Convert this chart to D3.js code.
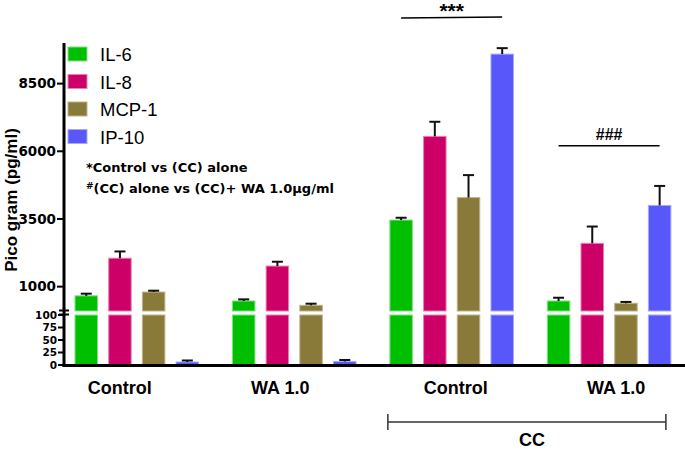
<!DOCTYPE html>
<html><head><meta charset="utf-8">
<script src="https://cdn.jsdelivr.net/npm/d3@7"></script>
<style>
body{margin:0;background:#fff;}
svg{display:block;}
</style></head>
<body>
<svg id="chart" width="685" height="449"></svg>
<script>
// ---- data ----
const groups = ["Control", "WA 1.0", "Control", "WA 1.0"];
const seriesNames = ["IL-6", "IL-8", "MCP-1", "IP-10"];
const IL6 = [660, 470, 3460, 470];
const IL6err = [80, 60, 85, 120];
const IL8 = [2050, 1760, 6550, 2600];
const IL8err = [250, 160, 540, 620];
const MCP1 = [800, 310, 4290, 385];
const MCP1err = [50, 60, 830, 50];
const IP10 = [6, 7, 9590, 4000];
const IP10err = [3, 3, 220, 720];
const upperTicks = [1000, 3500, 6000, 8500];
const lowerTicks = [0, 25, 50, 75, 100];
const colors = ["#00bf00", "#cc0066", "#8a7a3a", "#5757fa"];
const strokes = ["#7ee07e", "#e880b3", "#bfb38a", "#a8a8ff"];

const values = [IL6, IL8, MCP1, IP10];
const errors = [IL6err, IL8err, MCP1err, IP10err];

const svg = d3.select("#chart");

// scales
const yUpper = d3.scaleLinear().domain([100, 10000]).range([311, 43]);
const yLower = d3.scaleLinear().domain([0, 100]).range([365, 315]);
const x0 = d3.scaleBand().domain(d3.range(groups.length)).range([75, 670.9]).paddingInner(0.215).paddingOuter(0);
const x1 = d3.scaleBand().domain(seriesNames).range([0, x0.bandwidth()]).paddingInner(0.332);

const axisX = 64;
const lowerTop = yLower(100), upperBottom = yUpper(100);

// bars
const data = [];
groups.forEach((g, gi) => {
  seriesNames.forEach((s, si) => {
    data.push({gi, si, s, v: values[si][gi], e: errors[si][gi]});
  });
});

const barG = svg.append("g");
data.forEach(d => {
  const x = x0(d.gi) + x1(d.s);
  const w = x1.bandwidth();
  if (d.v > 100) {
    barG.append("rect").attr("x", x).attr("y", lowerTop).attr("width", w).attr("height", yLower(0) - lowerTop)
      .attr("fill", colors[d.si]).attr("stroke", strokes[d.si]).attr("stroke-width", 1);
    barG.append("rect").attr("x", x).attr("y", yUpper(d.v)).attr("width", w).attr("height", upperBottom - yUpper(d.v))
      .attr("fill", colors[d.si]).attr("stroke", strokes[d.si]).attr("stroke-width", 1);
  } else {
    barG.append("rect").attr("x", x).attr("y", yLower(d.v)).attr("width", w).attr("height", yLower(0) - yLower(d.v))
      .attr("fill", colors[d.si]).attr("stroke", strokes[d.si]).attr("stroke-width", 1);
  }
  const yTop = d.v > 100 ? yUpper(d.v) : yLower(d.v);
  const yErr = d.v > 100 ? yUpper(d.v + d.e) : yLower(d.v + d.e);
  const cx = x + w / 2;
  barG.append("line").attr("x1", cx).attr("x2", cx).attr("y1", yTop).attr("y2", yErr)
    .attr("stroke", "#111").attr("stroke-width", 2);
  barG.append("line").attr("x1", cx - 5.5).attr("x2", cx + 5.5).attr("y1", yErr).attr("y2", yErr)
    .attr("stroke", "#111").attr("stroke-width", 2);
});

// y axis
const axG = svg.append("g");
axG.append("line").attr("x1", axisX).attr("x2", axisX).attr("y1", 43).attr("y2", 366.5)
  .attr("stroke", "#000").attr("stroke-width", 3);
const tickFont = "'DejaVu Sans', sans-serif";
upperTicks.forEach(t => {
  const y = yUpper(t);
  axG.append("line").attr("x1", 57).attr("x2", axisX).attr("y1", y).attr("y2", y).attr("stroke", "#000").attr("stroke-width", 2);
  axG.append("text").attr("x", 56).attr("y", y).attr("dy", "0.36em").attr("text-anchor", "end")
    .attr("font-family", tickFont).attr("font-weight", "bold").attr("font-size", 13.5).text(t);
});
lowerTicks.forEach(t => {
  const y = yLower(t);
  axG.append("line").attr("x1", 58).attr("x2", axisX).attr("y1", y).attr("y2", y).attr("stroke", "#000").attr("stroke-width", 2);
  axG.append("text").attr("x", 57).attr("y", y).attr("dy", "0.36em").attr("text-anchor", "end")
    .attr("font-family", tickFont).attr("font-weight", "bold").attr("font-size", 10.5).text(t);
});
// break marks
[310.5, 314.5].forEach(y => {
  axG.append("line").attr("x1", 59).attr("x2", 69).attr("y1", y).attr("y2", y).attr("stroke", "#000").attr("stroke-width", 2);
});
// axis title
svg.append("text").attr("transform", "translate(17,200) rotate(-90)").attr("text-anchor", "middle")
  .attr("font-family", "'Liberation Sans', Arial, sans-serif").attr("font-weight", "bold").attr("font-size", 17)
  .text("Pico gram (pg/ml)");

// x axis
svg.append("line").attr("x1", axisX - 1.5).attr("x2", 685).attr("y1", 365.5).attr("y2", 365.5)
  .attr("stroke", "#000").attr("stroke-width", 3);
const labelDx = [-17, -14, 4, 7];
groups.forEach((g, gi) => {
  svg.append("text").attr("x", x0(gi) + x0.bandwidth() / 2 + labelDx[gi]).attr("y", 394)
    .attr("text-anchor", "middle").attr("font-family", "'Liberation Sans', Arial, sans-serif")
    .attr("font-weight", "bold").attr("font-size", 18).text(g);
});
// CC bracket
const bx0 = x0(2) - 2, bx1 = x0(3) + x0.bandwidth() - 5;
svg.append("line").attr("x1", bx0).attr("x2", bx1).attr("y1", 422).attr("y2", 422).attr("stroke", "#333").attr("stroke-width", 1.5);
[bx0, bx1].forEach(x => svg.append("line").attr("x1", x).attr("x2", x).attr("y1", 414).attr("y2", 430).attr("stroke", "#333").attr("stroke-width", 1.5));
svg.append("text").attr("x", 532).attr("y", 446).attr("text-anchor", "middle")
  .attr("font-family", "'Liberation Sans', Arial, sans-serif").attr("font-weight", "bold").attr("font-size", 18).text("CC");

// significance
const cxOf = (gi, s) => x0(gi) + x1(s) + x1.bandwidth() / 2;
svg.append("line").attr("x1", cxOf(2, "IL-6")).attr("x2", cxOf(2, "IP-10")).attr("y1", 18).attr("y2", 17)
  .attr("stroke", "#000").attr("stroke-width", 1.5);
svg.append("text").attr("x", (cxOf(2, "IL-6") + cxOf(2, "IP-10")) / 2).attr("y", 17.5).attr("text-anchor", "middle")
  .attr("font-family", "'Liberation Sans', Arial, sans-serif").attr("font-weight", "bold").attr("font-size", 21).text("***");
svg.append("line").attr("x1", cxOf(3, "IL-6")).attr("x2", cxOf(3, "IP-10")).attr("y1", 145.7).attr("y2", 145.7)
  .attr("stroke", "#000").attr("stroke-width", 1.5);
svg.append("text").attr("x", (cxOf(3, "IL-6") + cxOf(3, "IP-10")) / 2).attr("y", 139.5).attr("text-anchor", "middle")
  .attr("font-family", "'Liberation Sans', Arial, sans-serif").attr("font-weight", "bold").attr("font-size", 16).text("###");

// legend
const lg = svg.append("g");
seriesNames.forEach((s, i) => {
  const y = 47 + i * 27.5;
  lg.append("rect").attr("x", 68).attr("y", y).attr("width", 19).attr("height", 14)
    .attr("fill", colors[i]).attr("stroke", strokes[i]).attr("stroke-width", 1);
  lg.append("text").attr("x", 100).attr("y", y + 14).attr("font-family", "'Liberation Sans', Arial, sans-serif")
    .attr("font-size", 18.5).text(s);
});

// annotation
svg.append("text").attr("x", 86).attr("y", 172).attr("font-family", tickFont).attr("font-weight", "bold")
  .attr("font-size", 13).text("*Control vs (CC) alone");
const t2 = svg.append("text").attr("x", 86).attr("y", 193).attr("font-family", tickFont).attr("font-weight", "bold").attr("font-size", 13);
t2.append("tspan").attr("font-size", 9).attr("dy", -4).text("#");
t2.append("tspan").attr("dy", 4).text("(CC) alone vs (CC)+ WA 1.0μg/ml");
</script>
</body></html>
